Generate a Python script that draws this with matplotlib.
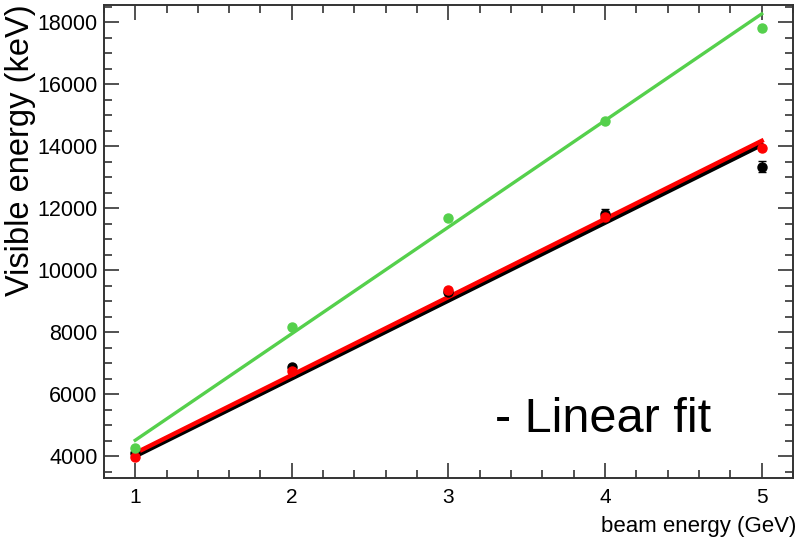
import matplotlib
matplotlib.use("Agg")
import matplotlib.pyplot as plt
import numpy as np
from matplotlib.ticker import MultipleLocator

plt.rcParams['font.family'] = ['Liberation Sans', 'DejaVu Sans']

beam = [1, 2, 3, 4, 5]
green_vals = [4260, 8160, 11670, 14800, 17800]
red_vals = [3990, 6750, 9370, 11700, 13930]
black_vals = [4100, 6870, 9300, 11820, 13340]
black_err = [60, 80, 80, 160, 180]

green_fit = (3437, 1078)
red_fit = (2517, 1583)
black_fit = (2510, 1490)

fig = plt.figure(figsize=(7.99, 5.41), dpi=100)
ax = fig.add_axes([0.130, 0.1165, 0.8625, 0.8743])

xf = np.array([1.0, 5.0])
ax.plot(xf, black_fit[0] * xf + black_fit[1], color='black', lw=3.2, zorder=2)
ax.plot(xf, red_fit[0] * xf + red_fit[1], color='#ff0000', lw=3.2, zorder=3)
ax.plot(xf, green_fit[0] * xf + green_fit[1], color='#55d04c', lw=2.4, zorder=3)

ax.errorbar(beam, black_vals, yerr=black_err, fmt='o', color='black', ms=6.5,
            capsize=3, elinewidth=1, zorder=4)
ax.plot(beam, red_vals, 'o', color='#ff0000', ms=6.5, zorder=5)
ax.plot(beam, green_vals, 'o', color='#55d04c', ms=6.5, zorder=5)

ax.set_xlim(0.8, 5.2)
ax.set_ylim(3300, 18550)
ax.xaxis.set_major_locator(MultipleLocator(1))
ax.xaxis.set_minor_locator(MultipleLocator(0.2))
ax.yaxis.set_major_locator(MultipleLocator(2000))
ax.yaxis.set_minor_locator(MultipleLocator(500))
ax.tick_params(which='both', direction='in', top=True, right=True,
               color='#333333', width=1.2)
ax.tick_params(which='major', length=11)
ax.tick_params(axis='y', which='major', pad=4.5, labelsize=15.5)
ax.tick_params(axis='x', which='major', pad=7, labelsize=15)
ax.tick_params(which='minor', length=6)
for s in ax.spines.values():
    s.set_linewidth(1.4)
    s.set_color('#333333')

fig.text(0.026, 1 - 4 / 541, 'Visible energy (keV)', rotation=90,
         fontsize=23.5, ha='center', va='top')
fig.text(796 / 799, 1 - 532 / 541, 'beam energy (GeV)', fontsize=16,
         ha='right', va='baseline')

ax.text(0.567, 0.097, '- Linear fit', transform=ax.transAxes, fontsize=35,
        ha='left', va='baseline')

fig.savefig('out.png', dpi=100)
